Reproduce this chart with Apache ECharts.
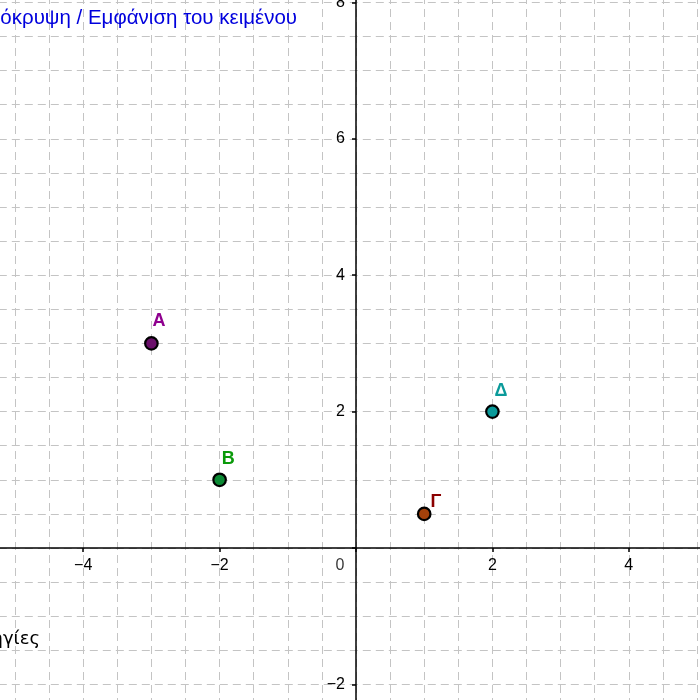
<!DOCTYPE html>
<html>
<head>
<meta charset="utf-8">
<script src="https://cdn.jsdelivr.net/npm/echarts@6/dist/echarts.min.js"></script>
<style>
html,body{margin:0;padding:0;background:#fff;}
#chart{width:700px;height:700px;}
</style>
</head>
<body>
<div id="chart"></div>
<script>
// Data
const pointNames = ['A', 'B', 'Γ', 'Δ'];
const pointX = [-3, -2, 1, 2];
const pointY = [3, 1, 0.5, 2];
const tickStep = 2;
const gridStep = 0.5;
const headerText = 'Απόκρυψη / Εμφάνιση του κειμένου';
const footerText = 'Οδηγίες';

// Styles / layout (kept separate from data)
const pointFill = ['#6a0f6a', '#0b8a34', '#a3410b', '#0a9a9a'];
const labelColor = ['#8f008f', '#0a9a0a', '#8b0000', '#0a9a9a'];
const labelOffset = [[15, -15], [16, -13], [19, -5], [16, -13]];

// view window: pixels per unit and origin position on the page
const unit = 68.2, originX = 356, originY = 548;
const xMin = -6, xMax = 6, yMin = -4, yMax = 10;
const gLeft = originX + xMin * unit;          // negative -> grid extends past edge
const gRight = 700 - (originX + xMax * unit);
const gTop = originY - yMax * unit;
const gBottom = 700 - (originY - yMin * unit);

const chart = echarts.init(document.getElementById('chart'), null, {renderer: 'canvas'});

const gridDash = {color: '#c4c4c4', width: 1, type: [8, 5]};
const fmt = function (v) {
  const n = Number(v);
  if (n === 0) return '';
  return n < 0 ? '\u2212' + Math.abs(n) : '' + n;
};
const font = 'Liberation Sans, Arial, sans-serif';

const series = pointNames.map((n, i) => ({
  type: 'scatter',
  name: n,
  z: 10,
  symbol: 'circle',
  symbolSize: 12.5,
  itemStyle: {color: pointFill[i], borderColor: '#000', borderWidth: 2.2, opacity: 1},
  label: {
    show: true,
    formatter: n,
    position: labelOffset[i],
    align: 'center',
    verticalAlign: 'middle',
    color: labelColor[i],
    fontWeight: 'bold',
    fontSize: 18,
    fontFamily: font
  },
  emphasis: {disabled: true},
  data: [[pointX[i], pointY[i]]]
}));

// origin label "0"
series.push({
  type: 'scatter',
  symbolSize: 0,
  silent: true,
  label: {
    show: true, formatter: '0', position: [-16, 18], align: 'center', verticalAlign: 'middle',
    color: '#000', fontSize: 16, fontFamily: font
  },
  data: [[0, 0]]
});

chart.setOption({
  animation: false,
  backgroundColor: '#fff',
  grid: {left: gLeft, right: gRight, top: gTop, bottom: gBottom, containLabel: false, outerBoundsMode: 'none'},
  xAxis: {
    type: 'value', min: xMin, max: xMax, interval: tickStep,
    position: 'bottom', offset: yMin * unit,
    axisLine: {show: true, onZero: false, lineStyle: {color: '#000', width: 1.5}},
    axisTick: {show: true, length: 4, lineStyle: {color: '#000', width: 1.5}},
    axisLabel: {show: true, margin: 10, color: '#000', fontSize: 16, fontFamily: font, formatter: fmt},
    splitLine: {show: true, lineStyle: gridDash},
    minorTick: {show: false, splitNumber: tickStep / gridStep},
    minorSplitLine: {show: true, lineStyle: gridDash}
  },
  yAxis: {
    type: 'value', min: yMin, max: yMax, interval: tickStep,
    position: 'left', offset: xMin * unit,
    axisLine: {show: true, onZero: false, lineStyle: {color: '#000', width: 1.5}},
    axisTick: {show: true, length: 4, lineStyle: {color: '#000', width: 1.5}},
    axisLabel: {show: true, margin: 11, color: '#000', fontSize: 16, fontFamily: font, formatter: fmt},
    splitLine: {show: true, lineStyle: gridDash},
    minorTick: {show: false, splitNumber: tickStep / gridStep},
    minorSplitLine: {show: true, lineStyle: gridDash}
  },
  graphic: [
    {type: 'text', x: 297, y: 18, z: 20,
      style: {text: headerText, fill: '#0000dd', fontSize: 20.5, fontFamily: font,
        textAlign: 'right', textVerticalAlign: 'middle'}},
    {type: 'text', x: 40, y: 639, z: 20,
      style: {text: footerText, fill: '#000', fontSize: 18, fontFamily: 'DejaVu Sans, sans-serif',
        textAlign: 'right', textVerticalAlign: 'middle'}}
  ],
  series: series
});
</script>
</body>
</html>
